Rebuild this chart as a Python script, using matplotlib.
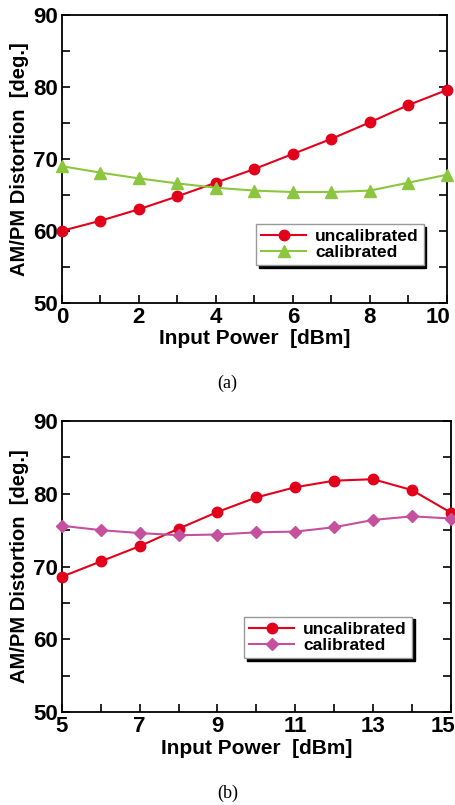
import matplotlib
matplotlib.use("Agg")
import matplotlib.pyplot as plt
import matplotlib.transforms as mtransforms
from matplotlib.ticker import MultipleLocator

plt.rcParams['font.family'] = ['Liberation Sans', 'DejaVu Sans']

# (a) data
power_a = [0, 1, 2, 3, 4, 5, 6, 7, 8, 9, 10]
uncal_a = [60.0, 61.4, 63.0, 64.8, 66.7, 68.6, 70.7, 72.8, 75.1, 77.5, 79.6]
cal_a = [69.0, 68.1, 67.3, 66.6, 66.0, 65.6, 65.4, 65.4, 65.6, 66.7, 67.8]

# (b) data
power_b = [5, 6, 7, 8, 9, 10, 11, 12, 13, 14, 15]
uncal_b = [68.6, 70.7, 72.8, 75.2, 77.5, 79.5, 80.9, 81.8, 82.0, 80.5, 77.4]
cal_b = [75.6, 75.0, 74.6, 74.3, 74.4, 74.7, 74.8, 75.4, 76.4, 76.9, 76.6]
ticks_b = [5, 7, 9, 11, 13, 15]

red = '#e2001a'
green = '#8cc63e'
purple = '#c4509e'


def style_axes(ax, xmin, xmax):
    ax.set_xlim(xmin, xmax)
    ax.set_ylim(50, 90)
    ax.xaxis.set_major_locator(MultipleLocator(2))
    ax.xaxis.set_minor_locator(MultipleLocator(1))
    ax.yaxis.set_major_locator(MultipleLocator(10))
    ax.yaxis.set_minor_locator(MultipleLocator(5))
    ax.tick_params(which='both', direction='in', right=True, width=1.2)
    ax.tick_params(which='major', length=6, labelsize=16, pad=3)
    ax.tick_params(which='minor', length=6)
    for sp in ax.spines.values():
        sp.set_linewidth(1.3)
    ax.set_xlabel('Input Power  [dBm]', fontsize=15, fontweight='bold', labelpad=1)
    ax.set_ylabel('AM/PM Distortion  [deg.]', fontsize=14.5, fontweight='bold', labelpad=3)


def bold_ticks(ax, fig):
    for lab in ax.get_xticklabels() + ax.get_yticklabels():
        lab.set_fontweight('bold')
    # keep the last x label inside the figure edge
    last = ax.get_xticklabels()[-1]
    shift = mtransforms.ScaledTranslation(-6 / 72, 0, fig.dpi_scale_trans)
    last.set_transform(last.get_transform() + shift)


def add_legend(ax, anchor):
    ax.legend(loc='lower right', bbox_to_anchor=anchor,
              prop={'weight': 'bold', 'size': 12.5}, fancybox=False,
              edgecolor='#999999', framealpha=1,
              shadow={'color': 'black', 'alpha': 1},
              handlelength=2.6, handletextpad=0.5, borderpad=0.3,
              labelspacing=0.05, borderaxespad=0)


fig = plt.figure(figsize=(4.55, 8.05), dpi=100)

ax1 = fig.add_axes([0.136, 0.624, 0.846, 0.357])
ax1.plot(power_a, uncal_a, color=red, marker='o', markersize=7.5, lw=1.5,
         label='uncalibrated', clip_on=False, zorder=3)
ax1.plot(power_a, cal_a, color=green, marker='^', markersize=8, lw=1.5,
         label='calibrated', clip_on=False, zorder=3)
style_axes(ax1, 0, 10)
ax1.set_xticks([0, 2, 4, 6, 8, 10])
bold_ticks(ax1, fig)
add_legend(ax1, (0.94, 0.13))
fig.text(0.5, 0.524, '(a)', ha='center', va='center', fontsize=13, family='Liberation Serif')

ax2 = fig.add_axes([0.136, 0.1155, 0.855, 0.3615])
ax2.plot(power_b, uncal_b, color=red, marker='o', markersize=7.5, lw=1.5,
         label='uncalibrated', clip_on=False, zorder=3)
ax2.plot(power_b, cal_b, color=purple, marker='D', markersize=6.5, lw=1.5,
         label='calibrated', clip_on=False, zorder=3)
style_axes(ax2, 5, 15)
ax2.set_xticks(ticks_b)
bold_ticks(ax2, fig)
add_legend(ax2, (0.9, 0.185))
fig.text(0.5, 0.015, '(b)', ha='center', va='center', fontsize=13, family='Liberation Serif')

plt.savefig('out.png', dpi=100)
